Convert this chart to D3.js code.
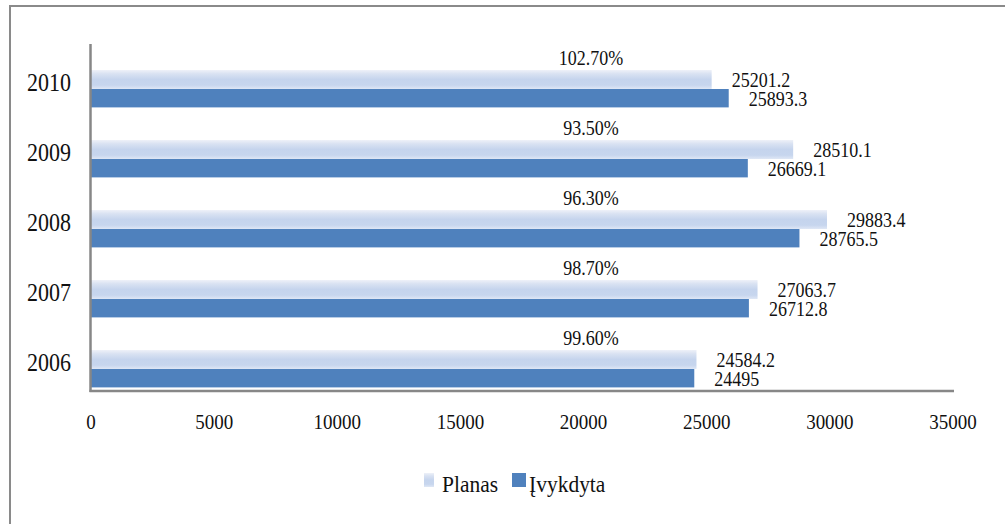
<!DOCTYPE html>
<html>
<head>
<meta charset="utf-8">
<script src="https://cdn.jsdelivr.net/npm/d3@7/dist/d3.min.js"></script>
<style>
  html, body { margin: 0; padding: 0; background: #fff; }
  svg { display: block; }
  text { font-family: "Liberation Serif", "Times New Roman", serif; fill: #111; }
</style>
</head>
<body>
<svg id="chart" width="1005" height="524"></svg>
<script>
// Plan vs. executed amounts per year
const years = ["2010", "2009", "2008", "2007", "2006"];
const planas = [25201.2, 28510.1, 29883.4, 27063.7, 24584.2];
const ivykdyta = [25893.3, 26669.1, 28765.5, 26712.8, 24495];
const percentLabels = ["102.70%", "93.50%", "96.30%", "98.70%", "99.60%"];
const xTicks = [0, 5000, 10000, 15000, 20000, 25000, 30000, 35000];
const seriesNames = ["Planas", "Įvykdyta"];

const svg = d3.select("#chart");
const defs = svg.append("defs");

// soft vertical gradient for the plan bars
const grad = defs.append("linearGradient")
  .attr("id", "planGrad").attr("x1", 0).attr("y1", 0).attr("x2", 0).attr("y2", 1);
[[0, "#eef1f8"], [0.2, "#d9e2f2"], [0.5, "#c5d4ed"], [0.8, "#c7d6ee"], [1, "#dfe7f5"]]
  .forEach(([o, c]) => grad.append("stop").attr("offset", o).attr("stop-color", c));

// outer frame
svg.append("rect")
  .attr("x", 10).attr("y", 6).attr("width", 1100).attr("height", 600)
  .attr("fill", "none").attr("stroke", "#8a8a8a").attr("stroke-width", 2);

const x = d3.scaleLinear().domain([0, 35000]).range([91, 953]);
const y = d3.scaleBand().domain(years).range([48, 398]);
const barH = 19;

// stretched serif text helper
function label(g, px, py, txt, size, anchor) {
  return g.append("text")
    .attr("transform", `translate(${px},${py}) scale(1,1.12)`)
    .attr("text-anchor", anchor || "start")
    .attr("font-size", size)
    .text(txt);
}

const plot = svg.append("g");

years.forEach((yr, i) => {
  const c = y(yr) + y.bandwidth() / 2;
  const yP = c - 13, yI = c + 6;

  plot.append("rect")
    .attr("x", x(0)).attr("y", yP)
    .attr("width", x(planas[i]) - x(0)).attr("height", barH)
    .attr("fill", "url(#planGrad)");

  plot.append("rect")
    .attr("x", x(0)).attr("y", yI)
    .attr("width", x(ivykdyta[i]) - x(0)).attr("height", barH - 1)
    .attr("fill", "#4f81bd");
  plot.append("rect")
    .attr("x", x(0)).attr("y", yI + barH - 1)
    .attr("width", x(ivykdyta[i]) - x(0)).attr("height", 1)
    .attr("fill", "#b9cde6");

  label(plot, x(planas[i]) + 20, yP + barH - 2.5, String(planas[i]), 18);
  label(plot, x(ivykdyta[i]) + 20, yI + barH - 2, String(ivykdyta[i]), 18);
  label(plot, x(20300), yP - 5, percentLabels[i], 18, "middle");

  label(svg, 71, c + 8, yr, 22, "end");
});

// axes
const axisColor = "#878787";
svg.append("line")
  .attr("x1", x(0) - 0.5).attr("x2", x(0) - 0.5).attr("y1", 44).attr("y2", 392)
  .attr("stroke", axisColor).attr("stroke-width", 2.5);
svg.append("line")
  .attr("x1", x(0) - 1.5).attr("x2", x(35000) + 1).attr("y1", 391).attr("y2", 391)
  .attr("stroke", axisColor).attr("stroke-width", 2.5);

xTicks.forEach(t => label(svg, x(t), 429, String(t), 19, "middle"));

// legend
const lg = svg.append("g");
lg.append("rect").attr("x", 424).attr("y", 473).attr("width", 10).attr("height", 14)
  .attr("fill", "url(#planGrad)");
label(lg, 442, 492, seriesNames[0], 21.5);
lg.append("rect").attr("x", 512).attr("y", 473).attr("width", 14).attr("height", 14)
  .attr("fill", "#4f81bd");
label(lg, 529, 492, seriesNames[1], 21.5);
</script>
</body>
</html>
